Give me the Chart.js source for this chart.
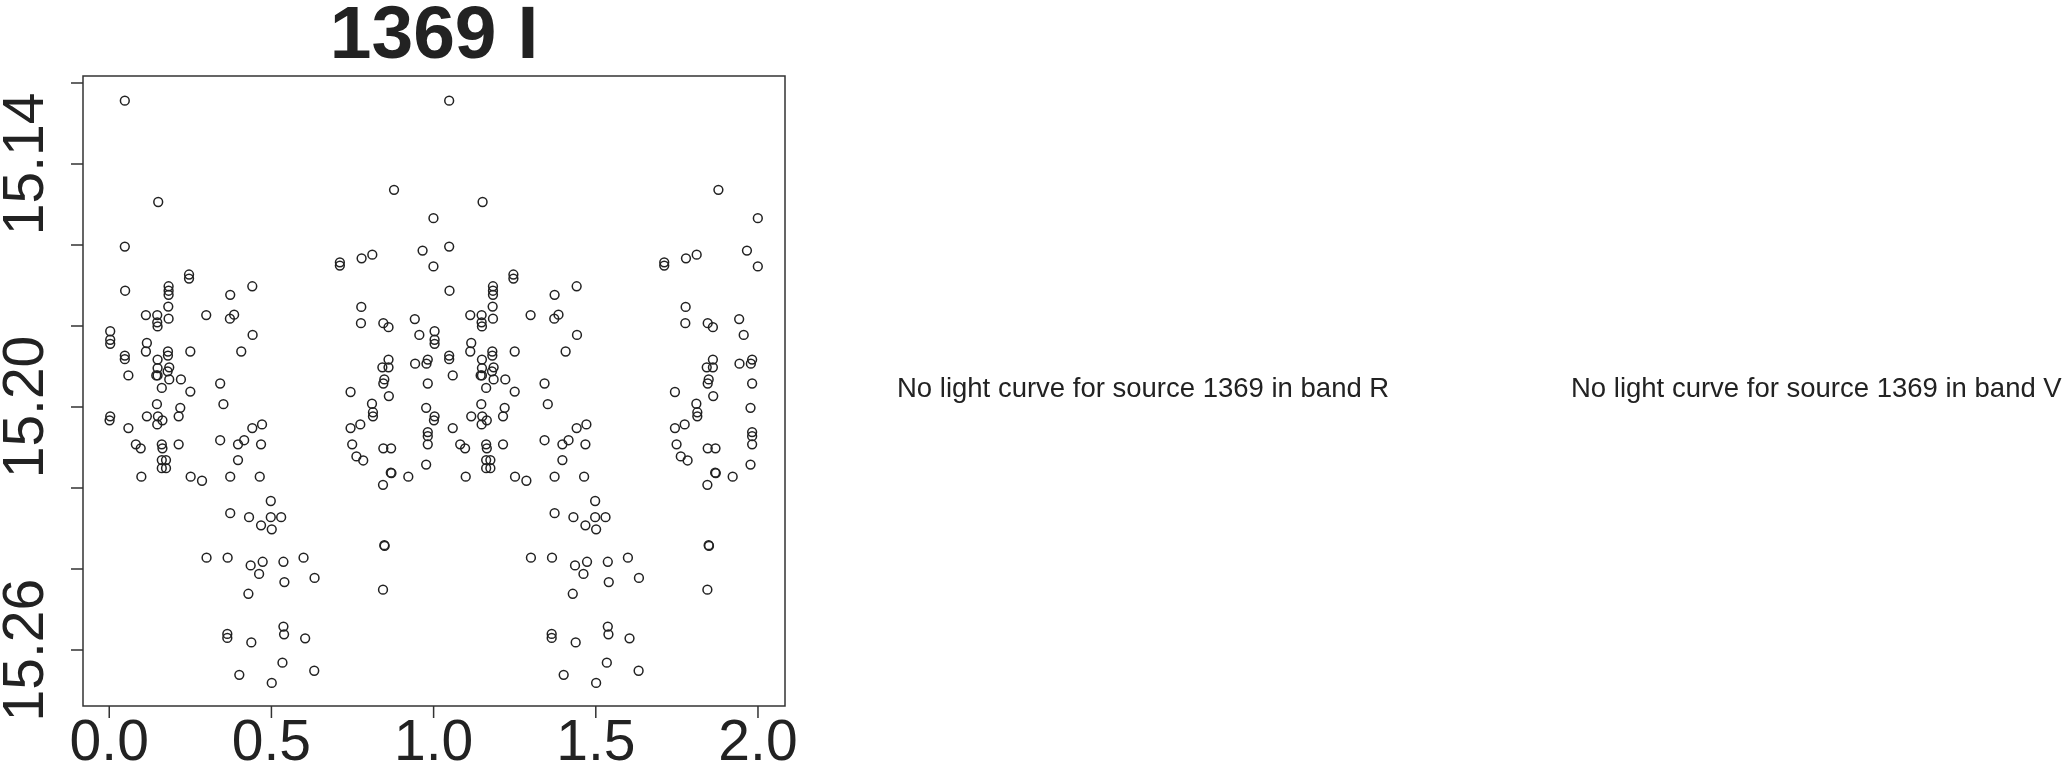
<!DOCTYPE html>
<html>
<head>
<meta charset="utf-8">
<script src="https://cdn.jsdelivr.net/npm/chart.js@4.4.1/dist/chart.umd.min.js"></script>
<style>
  html,body{margin:0;padding:0;background:#fff;overflow:hidden}
  canvas{display:block}
</style>
</head>
<body>
<canvas id="courbe" width="2064" height="764"></canvas>
<script>
/* ---- données : courbe de lumière repliée, source 1369, bande I ---- */
const titre = '1369 I';
const phase = [
  0.048,0.151,0.048,0.246,0.246,0.049,0.183,0.183,0.183,0.441,
  0.373,0.182,0.113,0.148,0.148,0.149,0.183,0.299,0.385,0.372,
  0.003,0.003,0.003,0.442,0.116,0.113,0.181,0.181,0.250,0.407,
  0.048,0.048,0.149,0.149,0.149,0.145,0.185,0.180,0.059,0.185,
  0.221,0.162,0.250,0.342,0.147,0.352,0.003,0.001,0.116,0.150,
  0.164,0.148,0.219,0.214,0.059,0.441,0.471,0.082,0.097,0.162,
  0.164,0.214,0.342,0.397,0.416,0.468,0.162,0.175,0.162,0.175,
  0.397,0.099,0.251,0.286,0.373,0.464,0.498,0.373,0.431,0.498,
  0.468,0.501,0.300,0.365,0.436,0.473,0.462,0.429,0.364,0.364,
  0.438,0.401,0.501,0.530,0.537,0.599,0.540,0.633,0.537,0.539,
  0.604,0.534,0.632,0.744,0.862,0.810,0.813,0.813,0.977,0.744,
  0.774,0.982,0.982,0.982,0.749,0.845,0.869,0.762,0.783,0.977,
  0.868,0.870,0.922,0.844,0.848,0.849,0.844,0.878,0.9995,0.966,
  0.9995,0.711,0.711,0.778,0.811,0.777,0.776,0.845,0.861,0.942,
  0.956,0.861,0.842,0.861,0.943,0.982,0.978,0.848,0.845,0.982
];
const mag = [
  15.1244,15.1494,15.1604,15.1673,15.1683,15.1713,15.1702,15.1713,15.1723,15.1702,
  15.1723,15.1752,15.1773,15.1773,15.1791,15.1801,15.1782,15.1773,15.1772,15.1782,
  15.1813,15.1834,15.1844,15.1822,15.1842,15.1863,15.1863,15.1873,15.1863,15.1863,
  15.1873,15.1882,15.1883,15.1904,15.1922,15.1922,15.1902,15.1912,15.1922,15.1932,
  15.1932,15.1953,15.1962,15.1942,15.1993,15.1993,15.2023,15.2033,15.2023,15.2023,
  15.2033,15.2043,15.2002,15.2023,15.2052,15.2052,15.2043,15.2092,15.2102,15.2092,
  15.2102,15.2092,15.2082,15.2092,15.2082,15.2092,15.2131,15.2131,15.2151,15.2151,
  15.2131,15.2172,15.2172,15.2182,15.2172,15.2172,15.2232,15.2262,15.2272,15.2272,
  15.2292,15.2302,15.2372,15.2372,15.2391,15.2382,15.2412,15.2461,15.2560,15.2570,
  15.2581,15.2661,15.2681,15.2272,15.2382,15.2372,15.2432,15.2422,15.2542,15.2561,
  15.2571,15.2631,15.2651,15.1963,15.1973,15.1992,15.2013,15.2023,15.2002,15.2052,
  15.2043,15.2062,15.2072,15.2092,15.2092,15.2102,15.2102,15.2122,15.2132,15.2142,
  15.2162,15.2163,15.2172,15.2192,15.2341,15.2343,15.2451,15.1464,15.1534,15.1614,
  15.1653,15.1643,15.1651,15.1633,15.1624,15.1753,15.1793,15.1793,15.1803,15.1783,
  15.1822,15.1883,15.1902,15.1902,15.1893,15.1883,15.1893,15.1932,15.1942,15.1942
];
const xTicks = [0, 0.5, 1, 1.5, 2];
const xLabels = ['0.0', '0.5', '1.0', '1.5', '2.0'];
const yTicks = [15.12, 15.14, 15.16, 15.18, 15.20, 15.22, 15.24, 15.26];
const yLabelVals = [15.14, 15.20, 15.26];
const yLabels = ['15.14', '15.20', '15.26'];
const absents = ['No light curve for source 1369 in band R', 'No light curve for source 1369 in band V'];

/* la phase est tracée sur deux cycles : chaque mesure apparaît à p et à p+1 */
const points = [
  ...phase.map((p, i) => ({x: p, y: mag[i]})),
  ...phase.map((p, i) => ({x: p + 1, y: mag[i]}))
];

const POLICE = '"Liberation Sans", Arial, Helvetica, sans-serif';
const ENCRE = '#222';

/* ---- axes façon R : cadre, graduations, libellés, titre, panneaux vides ---- */
const axesR = {
  id: 'axesR',
  afterDraw(chart){
    const {ctx, chartArea: a, scales: {x, y}} = chart;
    ctx.save();
    ctx.strokeStyle = '#333';
    ctx.lineWidth = 1.5;
    ctx.strokeRect(a.left, a.top, a.right - a.left, a.bottom - a.top);

    const lg = 12;
    ctx.beginPath();
    xTicks.forEach(v => { const px = x.getPixelForValue(v); ctx.moveTo(px, a.bottom); ctx.lineTo(px, a.bottom + lg); });
    yTicks.forEach(v => { const py = y.getPixelForValue(v); ctx.moveTo(a.left, py); ctx.lineTo(a.left - lg, py); });
    ctx.stroke();

    ctx.fillStyle = ENCRE;
    ctx.font = `57px ${POLICE}`;
    ctx.textAlign = 'center';
    ctx.textBaseline = 'alphabetic';
    xTicks.forEach((v, i) => ctx.fillText(xLabels[i], x.getPixelForValue(v), 760));
    yLabelVals.forEach((v, i) => {
      ctx.save();
      ctx.translate(43, y.getPixelForValue(v));
      ctx.rotate(-Math.PI / 2);
      ctx.fillText(yLabels[i], 0, 0);
      ctx.restore();
    });

    ctx.font = `bold 75px ${POLICE}`;
    ctx.fillText(titre, (a.left + a.right) / 2, 58);

    ctx.font = `27.5px ${POLICE}`;
    ctx.textAlign = 'left';
    ctx.fillText(absents[0], 897, 397);
    ctx.fillText(absents[1], 1571, 397);
    ctx.restore();
  }
};

new Chart(document.getElementById('courbe'), {
  type: 'scatter',
  data: {datasets: [{
    label: titre,
    data: points,
    pointStyle: 'circle',
    pointRadius: 4.4,
    pointHoverRadius: 4.4,
    borderWidth: 1.5,
    borderColor: ENCRE,
    backgroundColor: 'rgba(0,0,0,0)'
  }]},
  options: {
    responsive: false,
    animation: false,
    events: [],
    layout: {padding: {left: 83, top: 76, right: 1279, bottom: 58}},
    plugins: {legend: {display: false}, tooltip: {enabled: false}, title: {display: false}},
    scales: {
      x: {type: 'linear', display: false, min: -0.0809, max: 2.0833},
      y: {type: 'linear', display: false, reverse: true, min: 15.1183, max: 15.2738}
    }
  },
  plugins: [axesR]
});
</script>
</body>
</html>
